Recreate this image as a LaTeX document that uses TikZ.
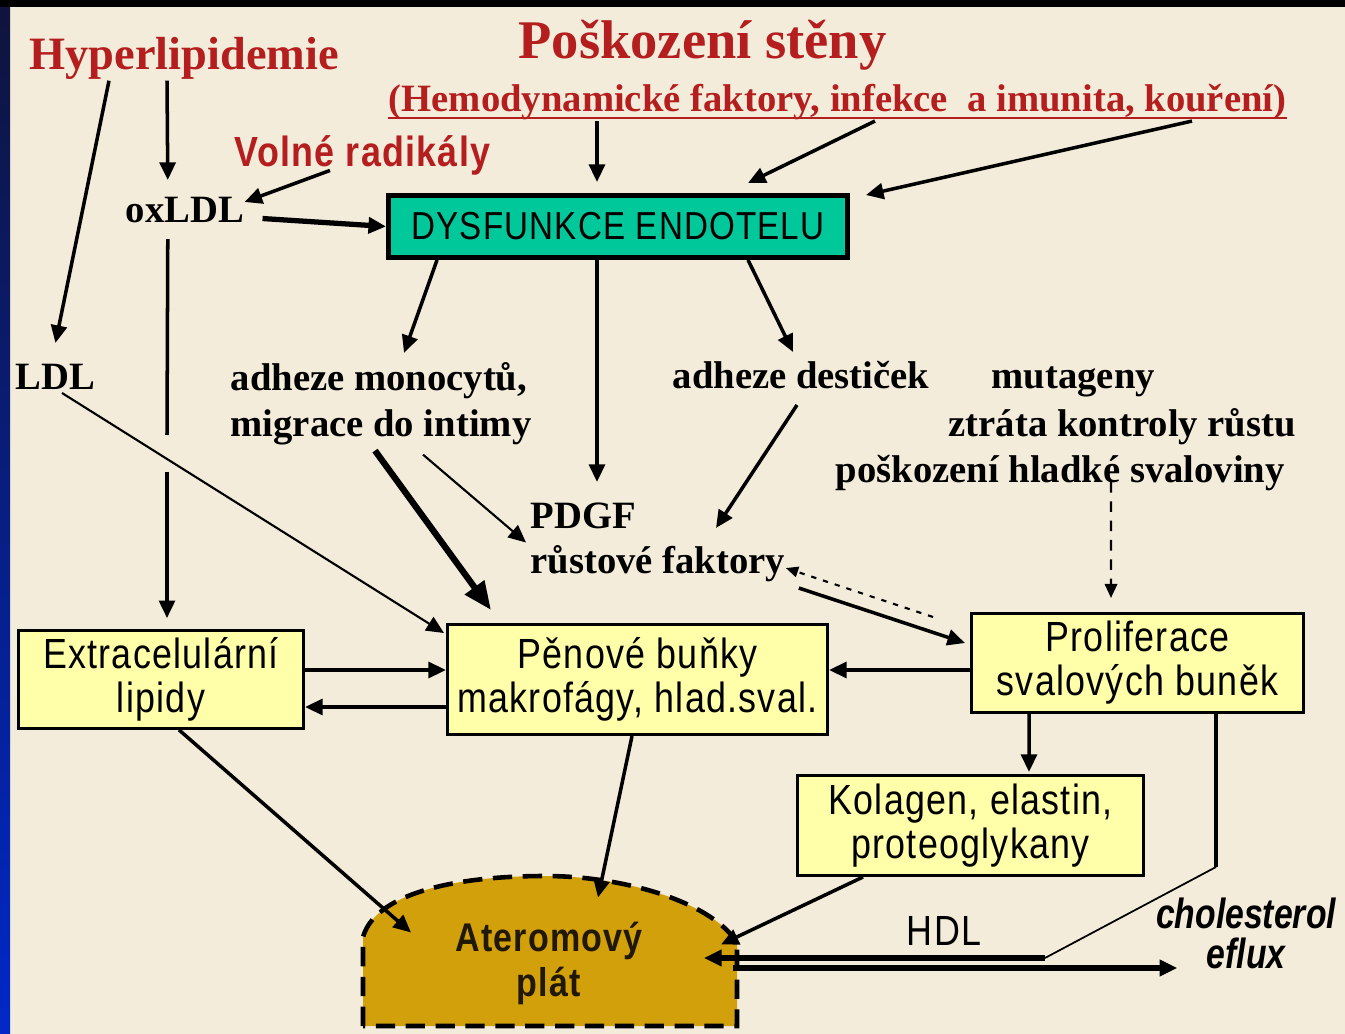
\documentclass[tikz,border=0pt]{standalone}
\usepackage{fontspec}
\setmainfont{Liberation Serif}
\newfontfamily\uzkesans[FakeStretch=0.85,LetterSpace=3]{Liberation Sans}
\newfontfamily\kurziva[FakeStretch=0.8]{Liberation Sans}
\usepackage{tikz}
\usetikzlibrary{arrows.meta,calc,positioning}

\definecolor{pozadi}{RGB}{244,236,219}
\definecolor{cervena}{RGB}{180,30,30}
\definecolor{tyrkys}{RGB}{0,200,155}
\definecolor{zluta}{RGB}{255,255,170}
\definecolor{okr}{RGB}{210,160,10}
\definecolor{modra}{RGB}{0,40,200}
\definecolor{namornicka}{RGB}{15,20,60}

\begin{document}
\begin{tikzpicture}
	\useasboundingbox (0,0) rectangle (13.45,-10.34);
	\fill[pozadi] (0,0) rectangle (13.45,-10.34);
	\shade[top color=namornicka,bottom color=modra] (0,0) rectangle (0.10,-10.34);
	\fill[black] (0,0) rectangle (13.45,-0.07);

	\draw[fill=okr,line width=1.3pt,dash pattern=on 5.5pt off 3pt] (3.63,-10.26) -- (3.63,-9.37)
		.. controls (3.75,-8.95) and (4.5,-8.76) .. (5.45,-8.76)
		.. controls (6.3,-8.76) and (7.15,-9.05) .. (7.37,-9.43) -- (7.37,-10.26) -- cycle;

	\begin{scope}[every node/.style={inner sep=0pt,text=cervena,font=\bfseries\fontsize{11}{13}\selectfont}]
		\node[anchor=base west,font=\bfseries\fontsize{13.2}{15}\selectfont] (hyper) at (0.29,-0.70) {Hyperlipidemie};
		\node[anchor=base west,font=\bfseries\fontsize{15.5}{18}\selectfont] (poskoz) at (5.18,-0.59) {Poškození stěny};
		\node[anchor=base west] (hemo) at (3.88,-1.12) {(Hemodynamické faktory, infekce~~a imunita, kouření)};
		\node[anchor=base west,font=\uzkesans\bfseries\fontsize{12}{14}\selectfont] (volne) at (2.34,-1.67) {Volné radikály};
	\end{scope}
	\draw[cervena,line width=0.7pt] ([yshift=-0.06cm]hemo.base west) -- ([yshift=-0.06cm]hemo.base east);

	\begin{scope}[every node/.style={inner sep=0pt,font=\bfseries\fontsize{11}{13}\selectfont}]
		\node[anchor=base west] (oxldl) at (1.25,-2.23) {oxLDL};
		\node[anchor=base west] (ldl) at (0.15,-3.90) {LDL};
		\node[anchor=north west,align=left] (monoc) at (2.30,-3.62) {adheze monocytů,\\migrace do intimy};
		\node[anchor=base west] (destic) at (6.72,-3.89) {adheze destiček};
		\node[anchor=base west] (mutag) at (9.91,-3.89) {mutageny};
		\node[anchor=base west] (ztrata) at (9.48,-4.37) {ztráta kontroly růstu};
		\node[anchor=base west] (poskhl) at (8.35,-4.82) {poškození hladké svaloviny};
		\node[anchor=north west,align=left] (pdgf) at (5.30,-5.02) {PDGF\\růstové faktory};
	\end{scope}

	\begin{scope}[every node/.style={draw,line width=0.85pt,fill=zluta,align=center,inner sep=2pt,font=\uzkesans\fontsize{12}{12.5}\selectfont}]
		\node[fill=tyrkys,line width=1.4pt,minimum width=4.59cm,minimum height=0.62cm,font=\uzkesans\fontsize{11.1}{12}\selectfont] (dysf) at (6.18,-2.265) {DYSFUNKCE ENDOTELU};
		\node[minimum width=2.85cm,minimum height=0.90cm] (extra) at (1.61,-6.795) {Extracelulární\\lipidy};
		\node[minimum width=3.80cm,minimum height=1.10cm] (penove) at (6.375,-6.795) {Pěnové buňky\\makrofágy, hlad.sval.};
		\node[minimum width=3.32cm,minimum height=0.99cm] (prolif) at (11.375,-6.63) {Proliferace\\svalových buněk};
		\node[minimum width=3.46cm,minimum height=1.00cm] (kolagen) at (9.705,-8.255) {Kolagen, elastin,\\proteoglykany};
	\end{scope}

	\node[inner sep=0pt,align=center,text=black!85!okr,font=\uzkesans\bfseries\fontsize{11.4}{12.8}\selectfont] (plat) at (5.49,-9.635) {Ateromový\\plát};
	\node[anchor=base,inner sep=0pt,font=\uzkesans\fontsize{12}{14}\selectfont] (hdl) at (9.44,-9.45) {HDL};
	\node[anchor=south,inner sep=0pt,align=center,font=\kurziva\bfseries\itshape\fontsize{12}{11.4}\selectfont] (chol) at (12.46,-9.70) {cholesterol\\eflux};

	\coordinate (hopA) at (1.67,-4.35);
	\coordinate (hopB) at (1.67,-4.72);
	\coordinate (hdlvert) at (12.16,-8.67);
	\coordinate (hdlknee) at (10.45,-9.58);

	\begin{scope}[>={Triangle[length=5pt,width=4.5pt]},
		every edge/.style={draw,line width=1pt}]
		\path ([xshift=0.80cm]hyper.south west) edge[->] ([yshift=0.21cm]ldl.north);
		\path ([xshift=1.38cm]hyper.south west) edge[->] ([xshift=-0.17cm,yshift=0.17cm]oxldl.north);
		\path ([xshift=0.96cm,yshift=0.06cm]volne.south west) edge[->] ([yshift=-0.05cm]oxldl.north east);
		\path ([xshift=0.18cm,yshift=-0.08cm]oxldl.east) edge[->,line width=1.5pt] (dysf.west);
		\path ([xshift=-0.17cm,yshift=-0.15cm]oxldl.south) edge (hopA);
		\path (hopB) edge[->] ([xshift=0.06cm,yshift=0.11cm]extra.north);
		\path ([xshift=2.09cm]hemo.south west) edge[->] ([xshift=-0.21cm,yshift=0.11cm]dysf.north);
		\path ([xshift=4.87cm]hemo.south west) edge[->] ([xshift=1.30cm,yshift=0.10cm]dysf.north);
		\path ([xshift=8.04cm]hemo.south west) edge[->] ([xshift=0.16cm,yshift=-0.02cm]dysf.north east);
		\path ([xshift=0.51cm]dysf.south west) edge[->] ([xshift=1.74cm,yshift=0.09cm]monoc.north west);
		\path ([xshift=-0.21cm]dysf.south) edge[->] ([xshift=0.67cm,yshift=0.20cm]pdgf.north west);
		\path ([xshift=1.30cm]dysf.south) edge[->] ([xshift=1.21cm,yshift=0.37cm]destic.base west);
		\path ([xshift=1.45cm,yshift=-0.05cm]monoc.south west) edge[-{Triangle[length=8pt,width=6.5pt]},line width=1.8pt] ([xshift=0.45cm,yshift=0.13cm]penove.north west);
		\path ([xshift=1.93cm,yshift=-0.09cm]monoc.south west) edge[->,line width=0.6pt] ([xshift=-0.04cm]pdgf.west);
		\path ([xshift=1.25cm,yshift=-0.16cm]destic.base west) edge[->] ([xshift=1.86cm,yshift=-0.26cm]pdgf.north west);
		\path ([xshift=0.47cm,yshift=-0.03cm]ldl.base west) edge[->,line width=0.6pt] ([xshift=-0.02cm,yshift=-0.10cm]penove.north west);
		\path ([xshift=2.76cm]poskhl.base west) edge[-{Triangle[length=4pt,width=3.5pt]},line width=0.7pt,dash pattern=on 3pt off 2.5pt] ([xshift=-0.265cm,yshift=0.14cm]prolif.north);
		\path ([xshift=-0.37cm,yshift=-0.05cm]prolif.north west) edge[-{Triangle[length=3.5pt,width=3pt]},line width=0.6pt,dash pattern=on 1.5pt off 2pt] ([yshift=0.15cm]pdgf.south east);
		\path ([xshift=0.13cm,yshift=-0.05cm]pdgf.south east) edge[->] ([xshift=-0.05cm,yshift=0.20cm]prolif.west);
		\path ([yshift=0.095cm]extra.east) edge[->] ([yshift=0.095cm]penove.west);
		\path ([yshift=-0.275cm]penove.west) edge[->] ([yshift=-0.275cm]extra.east);
		\path ([yshift=-0.07cm]prolif.west) edge[->] ([yshift=0.095cm]penove.east);
		\path ([xshift=-1.085cm]prolif.south) edge[->] ([xshift=0.585cm,yshift=0.02cm]kolagen.north);
		\path ([xshift=0.18cm]extra.south) edge[->] ([xshift=-1.38cm,yshift=0.31cm]plat.center);
		\path ([xshift=-0.055cm]penove.south) edge[->] ([xshift=0.49cm,yshift=0.66cm]plat.center);
		\path ([xshift=0.67cm]kolagen.south west) edge[->] ([xshift=1.72cm,yshift=0.19cm]plat.center);
		\path ([xshift=0.785cm]prolif.south) edge[line width=1.3pt] (hdlvert);
		\path (hdlvert) edge[line width=0.5pt] (hdlknee);
		\path (hdlknee) edge[->,line width=1.6pt] ([xshift=1.55cm,yshift=0.055cm]plat.center);
		\path ([xshift=1.84cm,yshift=-0.045cm]plat.center) edge[->,line width=1.6pt] ([xshift=0.22cm,yshift=0.02cm]chol.south west);
	\end{scope}
\end{tikzpicture}
\end{document}
